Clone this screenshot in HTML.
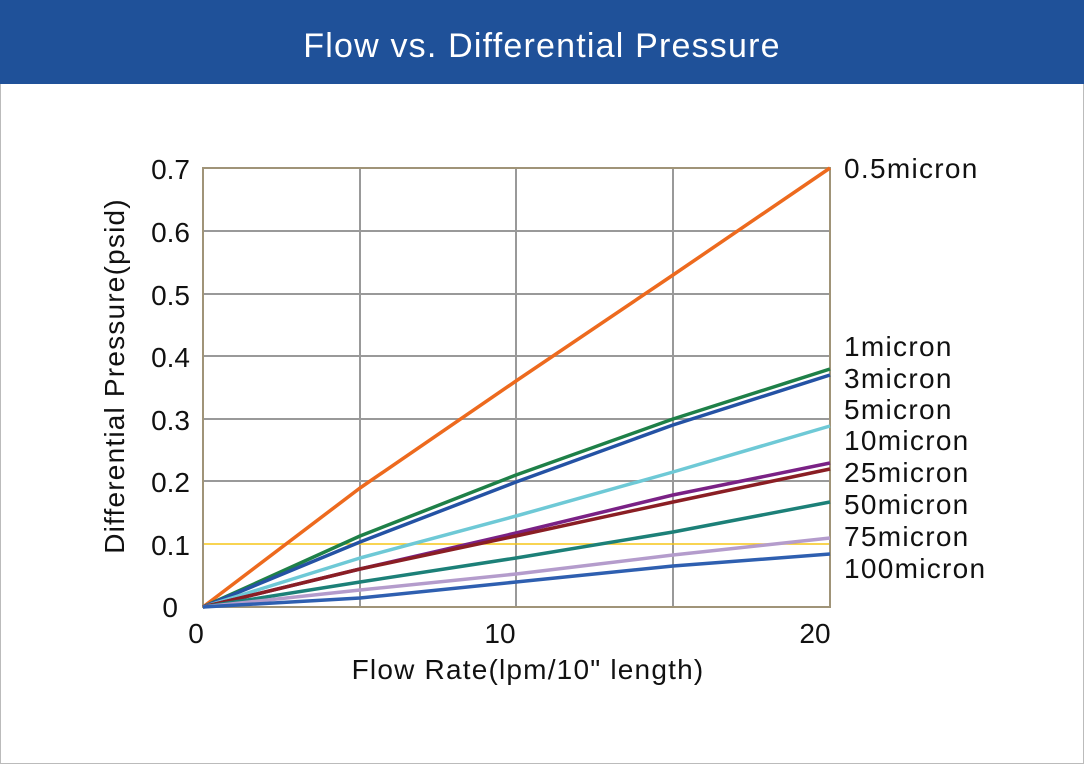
<!DOCTYPE html>
<html><head><meta charset="utf-8"><style>
body{margin:0;background:#fff;}
svg{display:block;font-family:"Liberation Sans","DejaVu Sans",sans-serif;}
</style></head><body>
<svg width="1084" height="764" viewBox="0 0 1084 764">
<rect x="0.5" y="0.5" width="1083" height="763" fill="#fff" stroke="#bbb"/>
<rect x="0" y="0" width="1084" height="84" fill="#1f5199"/>
<text x="542" y="57" font-size="34" letter-spacing="1.2" fill="#fff" text-anchor="middle">Flow vs. Differential Pressure</text>
<g stroke="#999" stroke-width="2" fill="none">
<line x1="360" y1="168" x2="360" y2="607"/><line x1="516" y1="168" x2="516" y2="607"/><line x1="673" y1="168" x2="673" y2="607"/>
<line x1="203" y1="231" x2="830" y2="231"/><line x1="203" y1="294" x2="830" y2="294"/><line x1="203" y1="356" x2="830" y2="356"/><line x1="203" y1="419" x2="830" y2="419"/><line x1="203" y1="481" x2="830" y2="481"/>
</g>
<line x1="203" y1="544" x2="830" y2="544" stroke="#f5c518" stroke-width="1.5"/>
<rect x="203" y="168" width="627" height="439" fill="none" stroke="#a09478" stroke-width="2"/>
<g fill="none" stroke-width="3.5" stroke-linejoin="round">
<polyline stroke="#ed6a1e" points="203,607 360,488 516,381 673,275 830,168"/>
<polyline stroke="#1e8048" points="203,607 360,536 516,475 673,419 830,369"/>
<polyline stroke="#2452a4" points="203,607 360,542 516,482 673,425 830,375"/>
<polyline stroke="#6ec9d6" points="203,607 360,558 516,516 673,472 830,426"/>
<polyline stroke="#7a2185" points="203,607 360,569 516,533 673,495 830,463"/>
<polyline stroke="#8a1e24" points="203,607 360,569 516,536 673,502 830,469"/>
<polyline stroke="#1c8078" points="203,607 360,582 516,558 673,532 830,502"/>
<polyline stroke="#b49ccc" points="203,607 360,590 516,574 673,555 830,538"/>
<polyline stroke="#2e5fb0" points="203,607 360,598 516,582 673,566 830,554"/>
</g>
<g font-size="28" fill="#111" text-anchor="end">
<text x="190" y="179">0.7</text><text x="190" y="242">0.6</text><text x="190" y="305">0.5</text><text x="190" y="367">0.4</text><text x="190" y="430">0.3</text><text x="190" y="492">0.2</text><text x="190" y="555">0.1</text><text x="178" y="617">0</text>
</g>
<g font-size="28" fill="#111" text-anchor="middle">
<text x="196" y="643">0</text><text x="500" y="643">10</text><text x="815" y="643">20</text>
<text x="528" y="679" letter-spacing="1.2">Flow Rate(lpm/10" length)</text>
</g>
<text transform="translate(124,376) rotate(-90)" font-size="28" letter-spacing="1.2" fill="#111" text-anchor="middle">Differential Pressure(psid)</text>
<g font-size="28" letter-spacing="1.3" fill="#111">
<text x="844" y="178">0.5micron</text>
<text x="844" y="356">1micron</text><text x="844" y="388">3micron</text><text x="844" y="419">5micron</text><text x="844" y="450">10micron</text><text x="844" y="482">25micron</text><text x="844" y="514">50micron</text><text x="844" y="546">75micron</text><text x="844" y="578">100micron</text>
</g>
</svg>
</body></html>
